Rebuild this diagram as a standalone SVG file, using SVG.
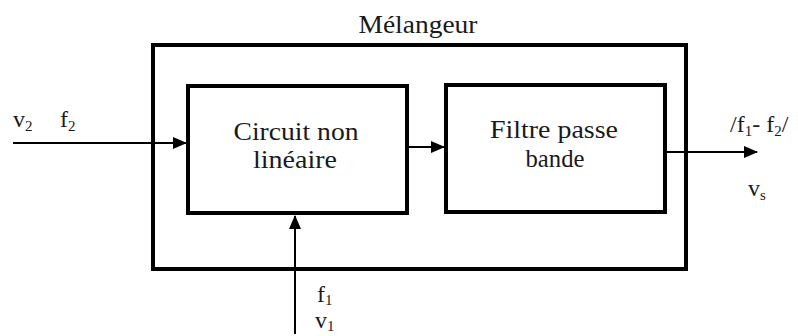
<svg xmlns="http://www.w3.org/2000/svg" width="798" height="336" viewBox="0 0 798 336">
<style>
.box{fill:none;stroke:#000;}
.t{font-family:"Liberation Serif","Times New Roman",serif;fill:#1a1a1a;}
.lbl{font-size:25px;text-anchor:middle;}
.io{font-size:24px;}
.sub{font-size:15px;}
.conn{stroke:#000;stroke-width:2;fill:none;}
</style>
<defs>
<marker id="ah" markerWidth="14" markerHeight="12" refX="13" refY="6" orient="auto" markerUnits="userSpaceOnUse">
<path d="M0,0 L14,6 L0,12 Z" fill="#000"/>
</marker>
</defs>
<rect width="798" height="336" fill="#fff"/>
<g id="melangeur">
<rect class="box" x="153" y="45" width="533" height="224" stroke-width="4"/>
<text class="t lbl" x="418" y="33" textLength="119" lengthAdjust="spacingAndGlyphs">Mélangeur</text>
</g>
<g id="circuit">
<rect class="box" x="188" y="86" width="219" height="127" stroke-width="4"/>
<text class="t lbl" x="296" y="140" textLength="125" lengthAdjust="spacingAndGlyphs">Circuit non</text>
<text class="t lbl" x="295" y="168" textLength="84" lengthAdjust="spacingAndGlyphs">linéaire</text>
</g>
<g id="filtre">
<rect class="box" x="446" y="85" width="219" height="127" stroke-width="4"/>
<text class="t lbl" x="554" y="138" textLength="128" lengthAdjust="spacingAndGlyphs">Filtre passe</text>
<text class="t lbl" x="555" y="167" textLength="59" lengthAdjust="spacingAndGlyphs">bande</text>
</g>
<g id="connectors">
<line class="conn" x1="13" y1="143" x2="186" y2="143" marker-end="url(#ah)"/>
<line class="conn" x1="408" y1="147" x2="444" y2="147" marker-end="url(#ah)"/>
<line class="conn" x1="665" y1="152" x2="757" y2="152" marker-end="url(#ah)"/>
<line class="conn" x1="295" y1="334" x2="295" y2="216" marker-end="url(#ah)"/>
</g>
<g id="labels">
<text class="t io" x="13" y="127">v<tspan class="sub" dy="4">2</tspan></text>
<text class="t io" x="60" y="127">f<tspan class="sub" dy="4">2</tspan></text>
<text class="t io" x="730" y="132">/f<tspan class="sub" dy="4">1</tspan><tspan dy="-4">- f</tspan><tspan class="sub" dy="4">2</tspan><tspan dy="-4">/</tspan></text>
<text class="t io" x="748" y="196">v<tspan class="sub" dy="4">s</tspan></text>
<text class="t io" x="317" y="302">f<tspan class="sub" dy="3">1</tspan></text>
<text class="t io" x="315" y="328">v<tspan class="sub" dy="3">1</tspan></text>
</g>
</svg>
